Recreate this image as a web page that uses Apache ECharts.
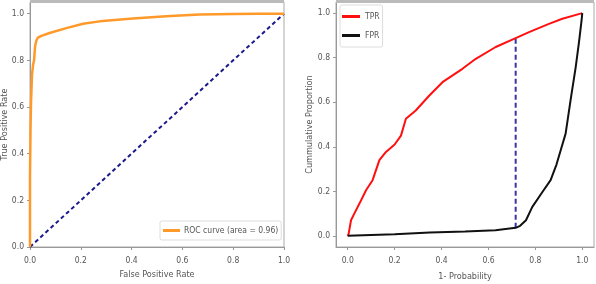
<!DOCTYPE html>
<html><head><meta charset="utf-8">
<script src="https://cdn.jsdelivr.net/npm/echarts@6/dist/echarts.min.js"></script>
<style>html,body{margin:0;padding:0;background:#fff}#c{width:596px;height:284px}</style>
</head><body><div id="c"></div>
<script>
// Left panel: ROC curve
const rocFpr = [0, 0, 0.002, 0.004, 0.008, 0.012, 0.016, 0.02, 0.025, 0.031, 0.045, 0.077, 0.143, 0.209, 0.274, 0.405, 0.536, 0.667, 0.8, 0.9, 1.0];
const rocTpr = [0, 0.3, 0.5, 0.62, 0.74, 0.78, 0.8, 0.86, 0.885, 0.897, 0.905, 0.917, 0.938, 0.957, 0.967, 0.979, 0.989, 0.996, 0.999, 1.0, 1.0];
const diagX = [0, 1];
const diagY = [0, 1];
const rocLabel = 'ROC curve (area = 0.96)';
// Right panel: cumulative proportions
const tprX = [0, 0.004, 0.014, 0.028, 0.05, 0.078, 0.106, 0.135, 0.163, 0.2, 0.227, 0.248, 0.29, 0.348, 0.404, 0.489, 0.546, 0.631, 0.716, 0.773, 0.858, 0.915, 1.0];
const tprY = [0, 0.01, 0.07, 0.10, 0.145, 0.205, 0.25, 0.34, 0.377, 0.41, 0.45, 0.526, 0.563, 0.63, 0.69, 0.75, 0.795, 0.848, 0.888, 0.915, 0.952, 0.975, 1.0];
const fprX = [0, 0.2, 0.35, 0.5, 0.63, 0.716, 0.735, 0.76, 0.787, 0.83, 0.865, 0.89, 0.908, 0.929, 0.95, 0.972, 0.986, 0.997, 1.0];
const fprY = [0, 0.007, 0.015, 0.02, 0.025, 0.036, 0.045, 0.07, 0.13, 0.197, 0.25, 0.32, 0.384, 0.459, 0.608, 0.758, 0.87, 0.967, 1.0];
const cutX = [0.716, 0.716];
const cutY = [0.036, 0.888];
const tickVals = [0, 0.2, 0.4, 0.6, 0.8, 1.0];

const zip = (a, b) => a.map((v, i) => [v, b[i]]);
const FONT = "'DejaVu Sans Condensed', 'Liberation Sans Narrow', 'DejaVu Sans', sans-serif";
const axisCommon = {
  type: 'value',
  splitLine: { show: false },
  axisLine: { show: true, onZero: false, lineStyle: { color: '#999', width: 1 } },
  axisTick: { show: true, length: 3, lineStyle: { color: '#999' }, customValues: tickVals },
  axisLabel: { color: '#555', fontSize: 8.5, fontFamily: FONT, margin: 6, customValues: tickVals, formatter: v => v.toFixed(1) },
  nameLocation: 'middle',
  nameMoveOverlap: false,
  nameTextStyle: { color: '#555', fontSize: 9, fontFamily: FONT }
};
const chart = echarts.init(document.getElementById('c'), null, { renderer: 'canvas' });
chart.setOption({
  animation: false,
  backgroundColor: '#fff',
  grid: [
    { left: 30, top: 2, width: 254, height: 245, show: true, borderColor: '#aaa', borderWidth: 1, containLabel: false, outerBoundsMode: 'none' },
    { left: 336, top: 2, width: 258, height: 245, show: true, borderColor: '#aaa', borderWidth: 1, containLabel: false, outerBoundsMode: 'none' }
  ],
  graphic: [
    { type: 'rect', shape: { x: 30, y: 0, width: 254, height: 3 }, style: { fill: '#bbb' }, z: 100 },
    { type: 'rect', shape: { x: 336, y: 0, width: 258, height: 3 }, style: { fill: '#bbb' }, z: 100 }
  ],
  xAxis: [
    Object.assign({}, axisCommon, { gridIndex: 0, min: 0, max: 1, name: 'False Positive Rate', nameGap: 23,
      axisLabel: Object.assign({}, axisCommon.axisLabel, { margin: 9 }) }),
    Object.assign({}, axisCommon, { gridIndex: 1, min: -0.05, max: 1.05, name: '1- Probability', nameGap: 25,
      axisLabel: Object.assign({}, axisCommon.axisLabel, { margin: 9 }) })
  ],
  yAxis: [
    Object.assign({}, axisCommon, { gridIndex: 0, min: 0, max: 1.05, name: 'True Positive Rate', nameGap: 21 }),
    Object.assign({}, axisCommon, { gridIndex: 1, min: -0.05, max: 1.05, name: 'Cummulative Proportion', nameGap: 22 })
  ],
  legend: [
    { data: [rocLabel], left: 160, top: 221, orient: 'vertical', icon: 'rect', itemWidth: 17, itemHeight: 3,
      backgroundColor: 'rgba(255,255,255,0.8)', borderColor: '#ddd', borderWidth: 1, borderRadius: 2, padding: [5, 3, 5, 3],
      textStyle: { color: '#555', fontSize: 8.5, fontFamily: FONT, padding: [0, 0, 0, -1] } },
    { data: ['TPR', 'FPR'], left: 340, top: 5, orient: 'vertical', icon: 'rect', itemWidth: 18, itemHeight: 3, itemGap: 10,
      backgroundColor: 'rgba(255,255,255,0.8)', borderColor: '#ddd', borderWidth: 1, borderRadius: 2, padding: [7, 3, 7, 2],
      textStyle: { color: '#555', fontSize: 8.5, fontFamily: FONT } }
  ],
  series: [
    { name: rocLabel, type: 'line', xAxisIndex: 0, yAxisIndex: 0, data: zip(rocFpr, rocTpr), showSymbol: false,
      lineStyle: { color: '#ff9a2a', width: 2.5 }, itemStyle: { color: '#ff9a2a' }, z: 3 },
    { name: 'diag', type: 'line', xAxisIndex: 0, yAxisIndex: 0, data: zip(diagX, diagY), showSymbol: false,
      lineStyle: { color: '#1a1a8c', width: 2, type: [4, 3] }, itemStyle: { color: '#1a1a8c' }, z: 2 },
    { name: 'TPR', type: 'line', xAxisIndex: 1, yAxisIndex: 1, data: zip(tprX, tprY), showSymbol: false,
      lineStyle: { color: '#ff1010', width: 2 }, itemStyle: { color: '#ff1010' }, z: 3 },
    { name: 'FPR', type: 'line', xAxisIndex: 1, yAxisIndex: 1, data: zip(fprX, fprY), showSymbol: false,
      lineStyle: { color: '#111', width: 2 }, itemStyle: { color: '#111' }, z: 3 },
    { name: 'cut', type: 'line', xAxisIndex: 1, yAxisIndex: 1, data: zip(cutX, cutY), showSymbol: false,
      lineStyle: { color: '#3535a5', width: 2, type: [5, 3] }, itemStyle: { color: '#3535a5' }, z: 2 }
  ]
});
</script></body></html>
